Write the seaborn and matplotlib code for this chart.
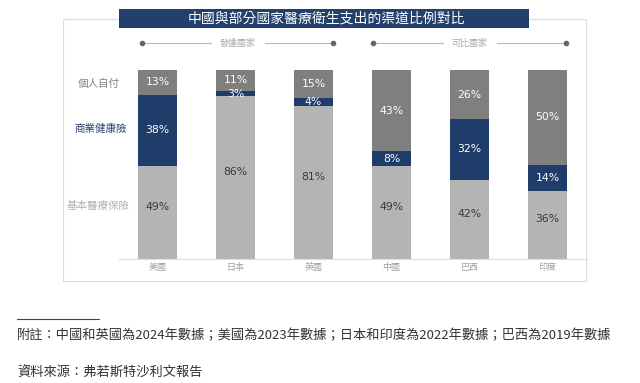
import matplotlib
matplotlib.use("Agg")
import matplotlib.pyplot as plt
from matplotlib.patches import Rectangle
from matplotlib.lines import Line2D
import seaborn as sns
import pandas as pd
import numpy as np

sns.set_style("white")
plt.rcParams['font.family'] = ['Noto Sans CJK TC', 'DejaVu Sans']

# ---- data ----
countries = ["美國", "日本", "英國", "中國", "巴西", "印度"]
basic_insurance = [49, 86, 81, 49, 42, 36]      # 基本醫療保險
commercial_insurance = [38, 3, 4, 8, 32, 14]    # 商業健康險
out_of_pocket = [13, 11, 15, 43, 26, 50]        # 個人自付
series_names = ["個人自付", "商業健康險", "基本醫療保險"]
group_names = ["發達國家", "可比國家"]
title = "中國與部分國家醫療衛生支出的渠道比例對比"
note = "附註：中國和英國為2024年數據；美國為2023年數據；日本和印度為2022年數據；巴西為2019年數據"
source = "資料來源：弗若斯特沙利文報告"

# ---- colours ----
c_top = "#7f7f80"
c_mid = "#1f3d6b"
c_bot = "#b4b4b5"
c_navy = "#22406b"

df = pd.DataFrame({
    "country": countries,
    "bot": basic_insurance,
    "mid": commercial_insurance,
    "top": out_of_pocket,
})
df["cum_mid"] = df["bot"] + df["mid"]
df["cum_top"] = df["cum_mid"] + df["top"]

W, H = 640, 383
fig = plt.figure(figsize=(W / 100, H / 100), dpi=100)

def fx(px):
    return px / W

def fy(py):
    return 1 - py / H

# axes: x from 118.5 to 586.5 px, y from 70 (top=100) to 259 (bottom=0)
ax = fig.add_axes([fx(118.5), fy(259), (586.5 - 118.5) / W, (259 - 70) / H])

sns.barplot(data=df, x="country", y="cum_top", order=countries, color=c_top,
            saturation=1, width=0.5, ax=ax, linewidth=0)
sns.barplot(data=df, x="country", y="cum_mid", order=countries, color=c_mid,
            saturation=1, width=0.5, ax=ax, linewidth=0)
sns.barplot(data=df, x="country", y="bot", order=countries, color=c_bot,
            saturation=1, width=0.5, ax=ax, linewidth=0)

ax.set_xlim(-0.5, len(countries) - 0.5)
ax.set_ylim(0, 100)
ax.set_xlabel("")
ax.set_ylabel("")
ax.set_yticks([])
for s in ["top", "left", "right"]:
    ax.spines[s].set_visible(False)
ax.spines["bottom"].set_color("#dedede")
ax.spines["bottom"].set_linewidth(0.8)
ax.tick_params(axis="x", length=0, pad=3, labelsize=6.5, labelcolor="#a0a0a0")
ax.patch.set_alpha(0)

# data labels
for i, row in df.iterrows():
    ax.annotate(f"{row['bot']}%", (i, row["bot"] / 2), xytext=(0, 4),
                textcoords="offset points", ha="center", va="center",
                fontsize=7.8, color="#3a3a3a", family=["DejaVu Sans"])
    ax.annotate(f"{row['mid']}%", (i, row["bot"] + row["mid"] / 2),
                ha="center", va="center", fontsize=7.8, color="white",
                family=["DejaVu Sans"])
    ax.annotate(f"{row['top']}%", (i, row["cum_mid"] + row["top"] / 2),
                ha="center", va="center", fontsize=7.8, color="white",
                family=["DejaVu Sans"])

# row labels
fig.text(fx(99), fy(84), series_names[0], ha="center", va="center",
         fontsize=7.6, color="#808080")
fig.text(fx(100.5), fy(129), series_names[1], ha="center", va="center",
         fontsize=7.6, color=c_navy)
fig.text(fx(98), fy(206), series_names[2], ha="center", va="center",
         fontsize=7.6, color="#b0b0b0")

# frame
frame = Rectangle((fx(63), fy(281)), fx(586) - fx(63), fy(19) - fy(281),
                  transform=fig.transFigure, fill=False, edgecolor="#dcdcdc",
                  linewidth=0.8)
fig.add_artist(frame)

# title banner
banner = Rectangle((fx(119), fy(28)), fx(529) - fx(119), fy(9) - fy(28),
                   transform=fig.transFigure, facecolor=c_navy, edgecolor="none")
fig.add_artist(banner)
fig.text(fx(326), fy(18.5), title, ha="center", va="center", fontsize=10,
         color="white", fontweight="medium")

# group sub-headers
for (x0, x1), name in zip([(142, 333), (373, 566)], group_names):
    xc = (x0 + x1) / 2
    gap = 27
    yy = fy(43)
    fig.add_artist(Line2D([fx(x0), fx(xc - gap)], [yy, yy], transform=fig.transFigure,
                          color="#b8b8b8", linewidth=0.8))
    fig.add_artist(Line2D([fx(xc + gap), fx(x1)], [yy, yy], transform=fig.transFigure,
                          color="#b8b8b8", linewidth=0.8))
    fig.add_artist(Line2D([fx(x0), fx(x1)], [yy, yy], transform=fig.transFigure,
                          color="#666666", linestyle="none", marker="o", markersize=3))
    fig.text(fx(xc), yy, name, ha="center", va="center", fontsize=6.5,
             color="#a8a8a8", style="italic")

# footnote
fig.add_artist(Line2D([fx(17), fx(99)], [fy(319), fy(319)], transform=fig.transFigure,
                      color="#444444", linewidth=0.8))
fig.text(fx(17), fy(336), note, ha="left", va="center", fontsize=9.5, color="#333333")
fig.text(fx(17), fy(373), source, ha="left", va="center", fontsize=9.5, color="#333333")

fig.savefig("out.png", dpi=100)
